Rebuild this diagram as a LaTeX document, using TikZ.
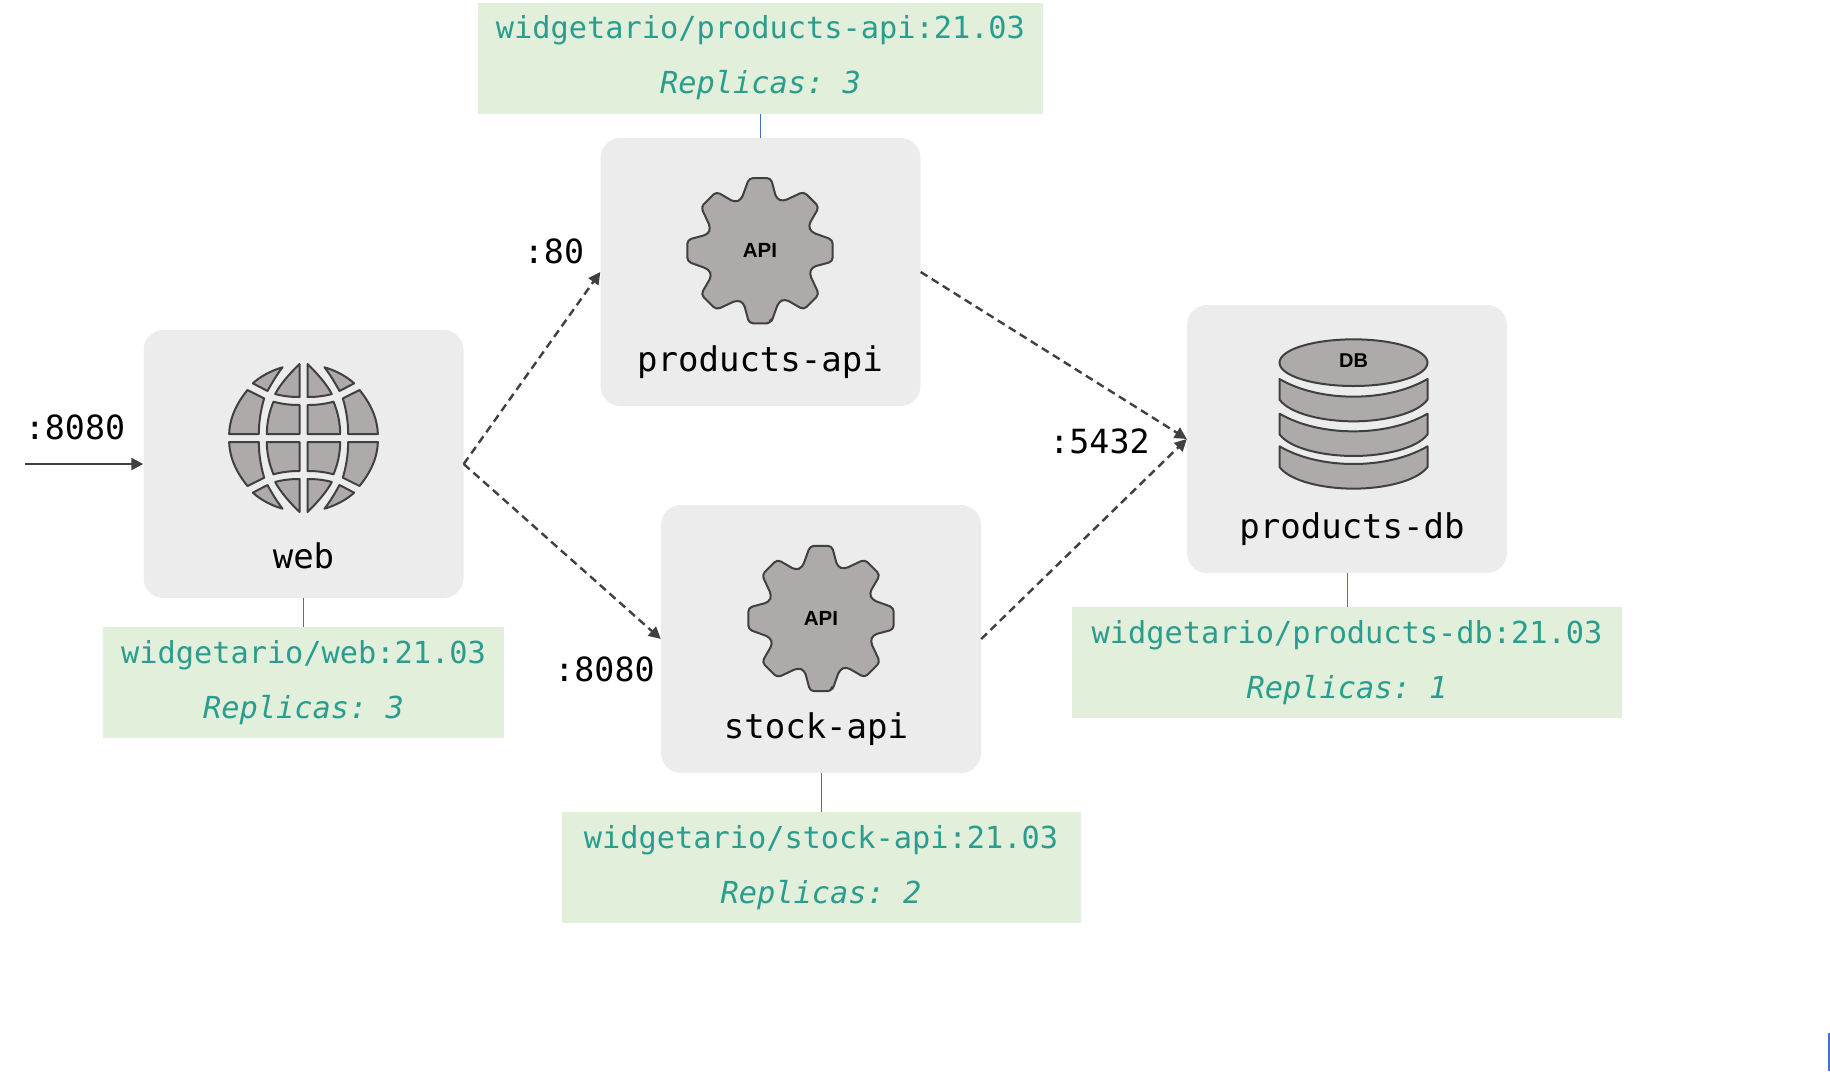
\documentclass[tikz,border=0pt]{standalone}
\usepackage{fontspec}
\usepackage{pdfrender}
\setmainfont{Liberation Sans}
\setmonofont{DejaVu Sans Mono}
\usetikzlibrary{arrows.meta}
\definecolor{boxgrey}{HTML}{ECECEC}
\definecolor{icongrey}{HTML}{AEAAAA}
\definecolor{icondark}{HTML}{404040}
\definecolor{tagfill}{HTML}{E2EFDA}
\definecolor{tagtext}{HTML}{2A9D8F}
\definecolor{tagline}{HTML}{4472C4}
\newcommand{\icontext}[1]{\textpdfrender{TextRenderingMode=2,LineWidth=0.9,FillColor=icongrey,StrokeColor=icondark}{\bfseries #1}}
\tikzset{
  x=1pt,y=-1pt,
  svcbox/.style={fill=boxgrey,rounded corners=20pt,inner sep=0pt,minimum width=320pt,minimum height=268pt},
  tagbox/.style={fill=tagfill,text=tagtext,inner sep=0pt,minimum height=111pt,align=center,font=\ttfamily\fontsize{30.3}{55}\selectfont},
  svclabel/.style={inner sep=0pt,font=\ttfamily\fontsize{34}{40}\selectfont,text=black},
  portlabel/.style={inner sep=0pt,font=\ttfamily\fontsize{33.3}{40}\selectfont,text=black},
  tagconn/.style={draw=tagline,line width=0.8pt},
  dataflow/.style={draw=icondark,line width=2.4pt,dashed,dash pattern=on 8pt off 5pt,-{Triangle[length=12pt,width=12pt]}},
  inflow/.style={draw=icondark,line width=2.4pt,-{Triangle[length=12pt,width=12pt]}},
  iconshape/.style={fill=icongrey,draw=icondark,line width=2pt,line join=round},
  gearicon/.pic={
    \draw[iconshape,rounded corners=4pt]
      (90-8.5:73.5)
      \foreach \k in {0,1,...,7}{
        -- ({90-8.5-45*\k}:73.5)
        -- ({90-8.5-45*\k-11.5}:54.5)
        -- ({90-8.5-45*\k-19}:54.5)
        -- ({90-8.5-45*\k-28}:73.5)
      } -- cycle;
    \node[inner sep=0pt,font=\fontsize{20.5}{22}\selectfont] (txt) at (0,0) {\icontext{API}};
  },
  dbicon/.pic={
    \begin{scope}[scale=0.3333]
      \draw[iconshape,line width=2pt] (0,-118-0) ellipse [x radius=222,y radius=70];
      \foreach \t/\b in {-69/-6,35/98,133/198}{
        \draw[iconshape,line width=2pt] (-222,\t)
          .. controls (-160,\t+36) and (-80,\t+53) .. (0,\t+53)
          .. controls (80,\t+53) and (160,\t+36) .. (222,\t)
          -- (222,\t+62)
          .. controls (190,\t+105) and (90,\t+127) .. (0,\t+127)
          .. controls (-90,\t+127) and (-190,\t+105) .. (-222,\t+62) -- cycle;
      }
    \end{scope}
    \node[inner sep=0pt,font=\fontsize{20}{22}\selectfont] (txt) at (0,-41) {\icontext{DB}};
  },
  globeicon/.pic={
    \begin{scope}[scale=0.3333]
    \foreach \sx/\sy in {1/1,-1/1,1/-1,-1/-1}{
      \begin{scope}[xscale=\sx,yscale=\sy]
        \draw[iconshape] (12,-222) .. controls (45,-190) and (70,-160) .. (85,-132)
          .. controls (60,-125) and (35,-123) .. (12,-123) -- cycle;
        \draw[iconshape] (63,-212) .. controls (95,-203) and (128,-186) .. (152,-164)
          -- (108,-141) .. controls (95,-165) and (80,-190) .. (63,-212) -- cycle;
        \draw[iconshape] (12,-99) .. controls (40,-99) and (65,-102) .. (90,-109)
          .. controls (103,-78) and (110,-45) .. (110,-12) -- (12,-12) -- cycle;
        \draw[iconshape] (118,-119) -- (168,-144)
          .. controls (200,-105) and (222,-60) .. (223,-12) -- (134,-12)
          .. controls (134,-50) and (128,-85) .. (118,-119) -- cycle;
      \end{scope}
    }
    \end{scope}
  }
}
\begin{document}
\begin{tikzpicture}
\useasboundingbox (0,0) rectangle (1830,1071);

% service boxes
\node[svcbox] (web) at (303.5,464) {};
\node[svcbox] (pa) at (760.5,272) {};
\node[svcbox] (sa) at (821,639) {};
\node[svcbox] (db) at (1347,439) {};

% tags
\node[tagbox,minimum width=401pt] (webtag) at (303.5,682.5) {widgetario/web:21.03\\\itshape Replicas: 3};
\node[tagbox,minimum width=565pt] (patag) at (760.5,58) {widgetario/products-api:21.03\\\itshape Replicas: 3};
\node[tagbox,minimum width=519pt] (satag) at (821,867.5) {widgetario/stock-api:21.03\\\itshape Replicas: 2};
\node[tagbox,minimum width=550pt] (dbtag) at (1347,662.5) {widgetario/products-db:21.03\\\itshape Replicas: 1};

% tag connectors
\draw[tagconn] (web.south) -- (webtag.north);
\draw[tagconn] (pa.north) -- (patag.south);
\draw[tagconn] (sa.south) -- (satag.north);
\draw[tagconn] (db.south) -- (dbtag.north);

% icons
\pic (webicon) at (303.5,438) {globeicon};
\pic (paicon) at (760,250.7) {gearicon};
\pic (saicon) at (821,618.5) {gearicon};
\pic (dbic) at (1353.5,402) {dbicon};

% service labels
\node[svclabel] (weblabel) at (303.5,556) {web};
\node[svclabel] (palabel) at (760,362) {products-api};
\node[svclabel] (salabel) at (816,729) {stock-api};
\node[svclabel] (dblabel) at (1352,529) {products-db};

% port labels
\node[portlabel] (p8080a) at (75,427) {:8080};
\node[portlabel] (p80) at (554,251) {:80};
\node[portlabel] (p8080b) at (604.5,669) {:8080};
\node[portlabel] (p5432) at (1099.5,441) {:5432};

% connectors
\coordinate (ingress) at (25,464);
\draw[inflow] (ingress) -- (web.west);
\draw[dataflow] (web.east) -- (pa.west);
\draw[dataflow] (web.east) -- (sa.west);
\draw[dataflow] (pa.east) -- (db.west);
\draw[dataflow] (sa.east) -- (db.west);

% stray mark at the page corner
\draw[tagline,line width=2pt] (1829,1033) -- (1829,1071);
\end{tikzpicture}
\end{document}
